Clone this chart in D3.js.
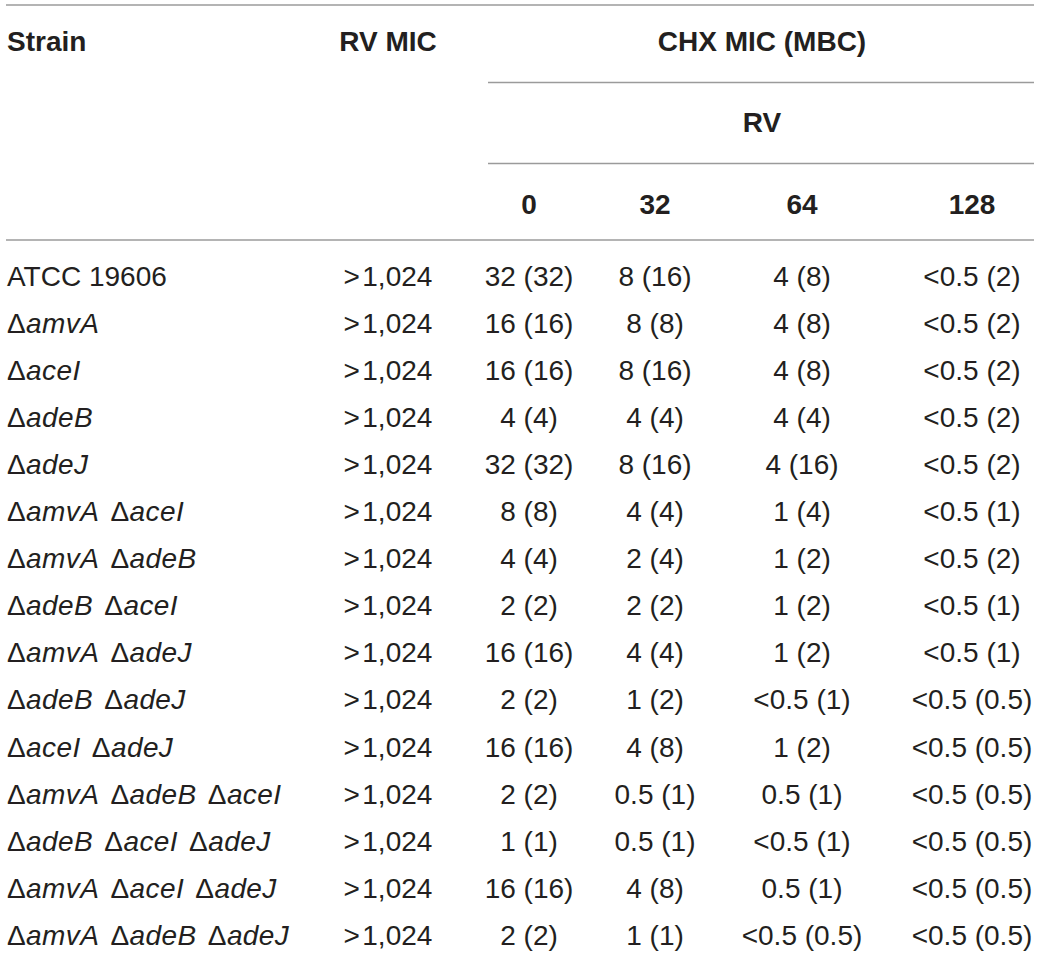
<!DOCTYPE html>
<html>
<head>
<meta charset="utf-8">
<script src="https://cdn.jsdelivr.net/npm/d3@7"></script>
<style>
  html, body { margin: 0; padding: 0; background: #fff; }
  svg text { font-family: "Liberation Sans", Arial, Helvetica, sans-serif; fill: #231f20; }
</style>
</head>
<body>
<svg id="chart"></svg>
<script>
// table data
const strains = [
  ["ATCC 19606"],
  ["amvA"],
  ["aceI"],
  ["adeB"],
  ["adeJ"],
  ["amvA", "aceI"],
  ["amvA", "adeB"],
  ["adeB", "aceI"],
  ["amvA", "adeJ"],
  ["adeB", "adeJ"],
  ["aceI", "adeJ"],
  ["amvA", "adeB", "aceI"],
  ["adeB", "aceI", "adeJ"],
  ["amvA", "aceI", "adeJ"],
  ["amvA", "adeB", "adeJ"]
];
const rvMic = Array(15).fill(">\u200A1,024");
const rvLevels = ["0", "32", "64", "128"];
// CHX MIC per RV concentration
const mic0   = ["32", "16", "16", "4", "32", "8", "4", "2", "16", "2", "16", "2", "1", "16", "2"];
const mic32  = ["8", "8", "8", "4", "8", "4", "2", "2", "4", "1", "4", "0.5", "0.5", "4", "1"];
const mic64  = ["4", "4", "4", "4", "4", "1", "1", "1", "1", "<0.5", "1", "0.5", "<0.5", "0.5", "<0.5"];
const mic128 = ["<0.5", "<0.5", "<0.5", "<0.5", "<0.5", "<0.5", "<0.5", "<0.5", "<0.5", "<0.5", "<0.5", "<0.5", "<0.5", "<0.5", "<0.5"];
// CHX MBC per RV concentration
const mbc0   = ["32", "16", "16", "4", "32", "8", "4", "2", "16", "2", "16", "2", "1", "16", "2"];
const mbc32  = ["16", "8", "16", "4", "16", "4", "4", "2", "4", "2", "8", "1", "1", "8", "1"];
const mbc64  = ["8", "8", "8", "4", "16", "4", "2", "2", "2", "1", "2", "1", "1", "1", "0.5"];
const mbc128 = ["2", "2", "2", "2", "2", "1", "2", "1", "1", "0.5", "0.5", "0.5", "0.5", "0.5", "0.5"];

const width = 1040, height = 959;
const svg = d3.select("#chart").attr("width", width).attr("height", height);

const lineColor = "#9b9b9b";
const fs = 28;

// column positions
const colX = d3.scaleOrdinal()
  .domain(["strain", "rvmic", "0", "32", "64", "128"])
  .range([7, 388, 529, 655, 802, 972]);
const rowY = d3.scalePoint()
  .domain(d3.range(strains.length))
  .range([276, 935]);

// rules
const rules = [
  {y: 5, x1: 6, x2: 1034},
  {y: 82.5, x1: 488, x2: 1034},
  {y: 163.5, x1: 488, x2: 1034},
  {y: 240, x1: 6, x2: 1034}
];
svg.append("g").selectAll("line").data(rules).join("line")
  .attr("x1", d => d.x1).attr("x2", d => d.x2)
  .attr("y1", d => d.y).attr("y2", d => d.y)
  .attr("stroke", lineColor).attr("stroke-width", 1.6);

// header
const head = svg.append("g").attr("font-weight", "bold").attr("font-size", fs);
head.append("text").attr("x", colX("strain")).attr("y", 41).attr("dy", "0.35em").text("Strain");
head.append("text").attr("x", colX("rvmic")).attr("y", 41).attr("dy", "0.35em")
  .attr("text-anchor", "middle").text("RV MIC");
head.append("text").attr("x", 762).attr("y", 41).attr("dy", "0.35em")
  .attr("text-anchor", "middle").text("CHX MIC (MBC)");
head.append("text").attr("x", 762).attr("y", 122).attr("dy", "0.35em")
  .attr("text-anchor", "middle").text("RV");
head.selectAll("text.lvl").data(rvLevels).join("text")
  .attr("class", "lvl")
  .attr("x", d => colX(d)).attr("y", 204).attr("dy", "0.35em")
  .attr("text-anchor", "middle").text(d => d);

// body
const body = svg.append("g").attr("font-size", fs);
const rows = body.selectAll("g.row").data(strains).join("g")
  .attr("class", "row")
  .attr("transform", (d, i) => `translate(0,${rowY(i)})`);

rows.append("text")
  .attr("x", colX("strain")).attr("dy", "0.35em")
  .each(function(d, i) {
    const t = d3.select(this);
    if (i === 0) { t.text(d[0]); return; }
    t.attr("letter-spacing", 0.4).attr("word-spacing", 3);
    d.forEach((g, j) => {
      t.append("tspan").text((j > 0 ? " " : "") + "\u0394");
      t.append("tspan").attr("font-style", "italic").text(g);
    });
  });

rows.append("text")
  .attr("x", colX("rvmic")).attr("dy", "0.35em").attr("text-anchor", "middle")
  .text((d, i) => rvMic[i]);

const cols = [
  {key: "0", mic: mic0, mbc: mbc0},
  {key: "32", mic: mic32, mbc: mbc32},
  {key: "64", mic: mic64, mbc: mbc64},
  {key: "128", mic: mic128, mbc: mbc128}
];
cols.forEach(c => {
  rows.append("text")
    .attr("x", colX(c.key)).attr("dy", "0.35em").attr("text-anchor", "middle")
    .text((d, i) => `${c.mic[i]} (${c.mbc[i]})`);
});
</script>
</body>
</html>
